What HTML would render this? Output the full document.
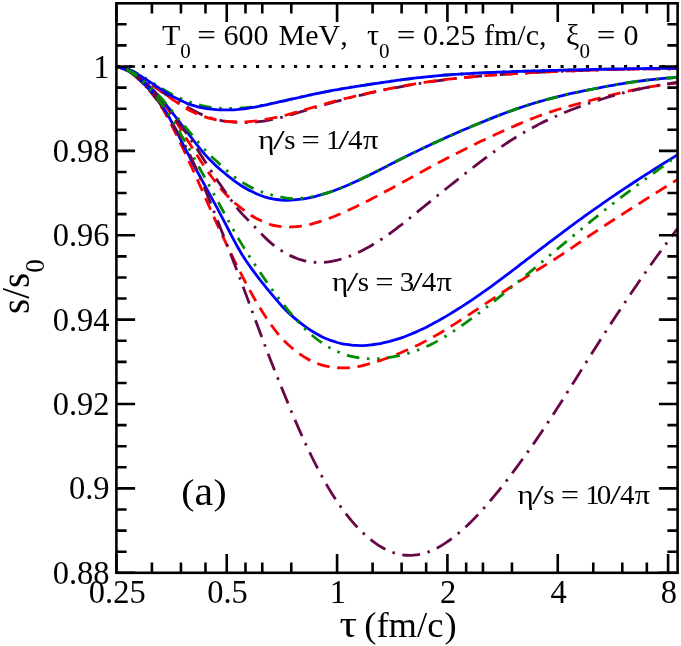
<!DOCTYPE html>
<html><head><meta charset="utf-8"><title>plot</title>
<style>
html,body{margin:0;padding:0;background:#fff;}
svg{display:block;will-change:transform;}
text{font-family:"Liberation Serif",serif;fill:#000;font-kerning:none;}
</style></head><body>
<svg width="681" height="646" viewBox="0 0 681 646">
<rect width="681" height="646" fill="#fff"/>
<path d="M116.4 66.5H677.6" fill="none" stroke="#000" stroke-width="3" stroke-dasharray="3.1 9.59"/>
<defs><clipPath id="clip"><rect x="116.4" y="3.3" width="561.2" height="569.3"/></clipPath></defs>
<g fill="none" stroke-linecap="butt" stroke-linejoin="round" clip-path="url(#clip)">
<path d="M116.40 66.50C118.07 66.80 119.73 67.04 121.40 67.39C123.07 67.74 124.73 68.10 126.40 68.60C128.07 69.11 129.73 69.72 131.40 70.44C133.07 71.16 134.73 72.02 136.40 72.91C138.07 73.80 139.73 74.79 141.40 75.77C143.07 76.76 144.73 77.79 146.40 78.82C148.07 79.86 149.73 80.92 151.40 81.97C153.07 83.03 154.73 84.10 156.40 85.15C158.07 86.20 159.73 87.26 161.40 88.28C163.07 89.30 164.73 90.30 166.40 91.26C168.07 92.22 169.73 93.15 171.40 94.03C173.07 94.91 174.73 95.75 176.40 96.55C178.07 97.34 179.73 98.09 181.40 98.80C183.07 99.51 184.73 100.18 186.40 100.81C188.07 101.44 189.73 102.03 191.40 102.59C193.07 103.14 194.73 103.67 196.40 104.16C198.07 104.64 199.73 105.09 201.40 105.50C203.07 105.91 204.73 106.28 206.40 106.60C208.07 106.93 209.73 107.21 211.40 107.44C213.07 107.68 214.73 107.87 216.40 108.01C218.07 108.16 219.73 108.25 221.40 108.32C223.07 108.39 224.73 108.41 226.40 108.42C228.07 108.43 229.73 108.42 231.40 108.39C233.07 108.36 234.73 108.31 236.40 108.24C238.07 108.17 239.73 108.09 241.40 107.98C243.07 107.87 244.73 107.74 246.40 107.59C248.07 107.44 249.73 107.26 251.40 107.05C253.07 106.85 254.73 106.61 256.40 106.35C258.07 106.09 259.73 105.80 261.40 105.49C263.07 105.19 264.73 104.86 266.40 104.53C268.07 104.20 269.73 103.85 271.40 103.50C273.07 103.15 274.73 102.79 276.40 102.43C278.07 102.07 279.73 101.71 281.40 101.34C283.07 100.98 284.73 100.62 286.40 100.26C288.07 99.89 289.73 99.53 291.40 99.17C293.07 98.80 294.73 98.43 296.40 98.06C298.07 97.70 299.73 97.33 301.40 96.96C303.07 96.59 304.73 96.23 306.40 95.86C308.07 95.50 309.73 95.14 311.40 94.79C313.07 94.43 314.73 94.08 316.40 93.73C318.07 93.38 319.73 93.03 321.40 92.70C323.07 92.36 324.73 92.02 326.40 91.69C328.07 91.37 329.73 91.04 331.40 90.73C333.07 90.41 334.73 90.10 336.40 89.80C338.07 89.49 339.73 89.20 341.40 88.91C343.07 88.61 344.73 88.33 346.40 88.05C348.07 87.77 349.73 87.49 351.40 87.22C353.07 86.95 354.73 86.69 356.40 86.42C358.07 86.16 359.73 85.90 361.40 85.64C363.07 85.39 364.73 85.13 366.40 84.88C368.07 84.63 369.73 84.38 371.40 84.13C373.07 83.88 374.73 83.63 376.40 83.38C378.07 83.13 379.73 82.89 381.40 82.64C383.07 82.40 384.73 82.15 386.40 81.91C388.07 81.67 389.73 81.42 391.40 81.18C393.07 80.95 394.73 80.71 396.40 80.48C398.07 80.24 399.73 80.01 401.40 79.79C403.07 79.56 404.73 79.34 406.40 79.13C408.07 78.91 409.73 78.70 411.40 78.50C413.07 78.29 414.73 78.09 416.40 77.90C418.07 77.70 419.73 77.52 421.40 77.33C423.07 77.15 424.73 76.98 426.40 76.81C428.07 76.64 429.73 76.47 431.40 76.31C433.07 76.15 434.73 76.00 436.40 75.85C438.07 75.70 439.73 75.56 441.40 75.42C443.07 75.29 444.73 75.15 446.40 75.02C448.07 74.90 449.73 74.77 451.40 74.65C453.07 74.53 454.73 74.42 456.40 74.31C458.07 74.20 459.73 74.09 461.40 73.99C463.07 73.88 464.73 73.78 466.40 73.68C468.07 73.59 469.73 73.50 471.40 73.40C473.07 73.31 474.73 73.23 476.40 73.14C478.07 73.06 479.73 72.98 481.40 72.90C483.07 72.82 484.73 72.74 486.40 72.67C488.07 72.60 489.73 72.52 491.40 72.45C493.07 72.38 494.73 72.32 496.40 72.25C498.07 72.18 499.73 72.12 501.40 72.05C503.07 71.99 504.73 71.93 506.40 71.87C508.07 71.81 509.73 71.75 511.40 71.69C513.07 71.63 514.73 71.57 516.40 71.52C518.07 71.46 519.73 71.40 521.40 71.35C523.07 71.29 524.73 71.24 526.40 71.19C528.07 71.13 529.73 71.08 531.40 71.03C533.07 70.98 534.73 70.92 536.40 70.87C538.07 70.82 539.73 70.77 541.40 70.72C543.07 70.67 544.73 70.63 546.40 70.58C548.07 70.53 549.73 70.48 551.40 70.44C553.07 70.39 554.73 70.35 556.40 70.31C558.07 70.26 559.73 70.22 561.40 70.18C563.07 70.14 564.73 70.10 566.40 70.06C568.07 70.01 569.73 69.98 571.40 69.94C573.07 69.90 574.73 69.86 576.40 69.82C578.07 69.79 579.73 69.75 581.40 69.71C583.07 69.68 584.73 69.64 586.40 69.61C588.07 69.57 589.73 69.53 591.40 69.50C593.07 69.46 594.73 69.43 596.40 69.39C598.07 69.36 599.73 69.32 601.40 69.29C603.07 69.26 604.73 69.22 606.40 69.19C608.07 69.15 609.73 69.12 611.40 69.09C613.07 69.05 614.73 69.02 616.40 68.99C618.07 68.96 619.73 68.93 621.40 68.90C623.07 68.87 624.73 68.84 626.40 68.81C628.07 68.78 629.73 68.75 631.40 68.73C633.07 68.70 634.73 68.67 636.40 68.65C638.07 68.62 639.73 68.60 641.40 68.58C643.07 68.55 644.73 68.53 646.40 68.51C648.07 68.49 649.73 68.47 651.40 68.45C653.07 68.43 654.73 68.41 656.40 68.39C658.07 68.37 659.73 68.36 661.40 68.34C663.07 68.32 664.73 68.30 666.40 68.29C668.07 68.27 669.73 68.25 671.40 68.24C673.07 68.22 674.73 68.20 676.40 68.19C676.80 68.18 677.20 68.18 677.60 68.18" stroke="#008b00" stroke-width="2.8" stroke-dasharray="2.55 7.65 12.75 7.65 2.55 7.65"/>
<path d="M116.40 66.50C118.07 66.84 119.73 67.13 121.40 67.53C123.07 67.94 124.73 68.35 126.40 68.94C128.07 69.52 129.73 70.23 131.40 71.06C133.07 71.88 134.73 72.88 136.40 73.90C138.07 74.92 139.73 76.06 141.40 77.19C143.07 78.32 144.73 79.50 146.40 80.68C148.07 81.87 149.73 83.08 151.40 84.28C153.07 85.48 154.73 86.70 156.40 87.89C158.07 89.08 159.73 90.28 161.40 91.44C163.07 92.60 164.73 93.74 166.40 94.84C168.07 95.94 169.73 97.00 171.40 98.03C173.07 99.06 174.73 100.04 176.40 101.00C178.07 101.96 179.73 102.87 181.40 103.79C183.07 104.71 184.73 105.59 186.40 106.51C188.07 107.42 189.73 108.36 191.40 109.27C193.07 110.18 194.73 111.11 196.40 111.96C198.07 112.81 199.73 113.62 201.40 114.37C203.07 115.11 204.73 115.79 206.40 116.42C208.07 117.04 209.73 117.61 211.40 118.12C213.07 118.63 214.73 119.09 216.40 119.49C218.07 119.90 219.73 120.25 221.40 120.56C223.07 120.87 224.73 121.12 226.40 121.34C228.07 121.56 229.73 121.74 231.40 121.89C233.07 122.04 234.73 122.15 236.40 122.24C238.07 122.34 239.73 122.41 241.40 122.45C243.07 122.48 244.73 122.50 246.40 122.48C248.07 122.46 249.73 122.41 251.40 122.31C253.07 122.22 254.73 122.10 256.40 121.93C258.07 121.77 259.73 121.56 261.40 121.33C263.07 121.10 264.73 120.84 266.40 120.56C268.07 120.28 269.73 119.97 271.40 119.64C273.07 119.31 274.73 118.96 276.40 118.58C278.07 118.21 279.73 117.81 281.40 117.38C283.07 116.95 284.73 116.50 286.40 116.03C288.07 115.57 289.73 115.08 291.40 114.59C293.07 114.11 294.73 113.61 296.40 113.12C298.07 112.63 299.73 112.14 301.40 111.64C303.07 111.15 304.73 110.65 306.40 110.16C308.07 109.66 309.73 109.16 311.40 108.66C313.07 108.16 314.73 107.66 316.40 107.16C318.07 106.67 319.73 106.17 321.40 105.68C323.07 105.19 324.73 104.70 326.40 104.22C328.07 103.74 329.73 103.26 331.40 102.79C333.07 102.32 334.73 101.86 336.40 101.40C338.07 100.94 339.73 100.49 341.40 100.05C343.07 99.61 344.73 99.17 346.40 98.74C348.07 98.31 349.73 97.88 351.40 97.46C353.07 97.05 354.73 96.64 356.40 96.23C358.07 95.82 359.73 95.42 361.40 95.03C363.07 94.64 364.73 94.25 366.40 93.86C368.07 93.48 369.73 93.10 371.40 92.73C373.07 92.36 374.73 91.99 376.40 91.63C378.07 91.27 379.73 90.92 381.40 90.57C383.07 90.21 384.73 89.87 386.40 89.53C388.07 89.19 389.73 88.85 391.40 88.53C393.07 88.20 394.73 87.87 396.40 87.55C398.07 87.23 399.73 86.92 401.40 86.61C403.07 86.30 404.73 86.00 406.40 85.70C408.07 85.41 409.73 85.11 411.40 84.83C413.07 84.54 414.73 84.26 416.40 83.98C418.07 83.71 419.73 83.44 421.40 83.17C423.07 82.91 424.73 82.65 426.40 82.39C428.07 82.14 429.73 81.89 431.40 81.65C433.07 81.40 434.73 81.17 436.40 80.93C438.07 80.70 439.73 80.47 441.40 80.25C443.07 80.03 444.73 79.82 446.40 79.61C448.07 79.40 449.73 79.19 451.40 78.99C453.07 78.80 454.73 78.60 456.40 78.42C458.07 78.23 459.73 78.05 461.40 77.87C463.07 77.69 464.73 77.52 466.40 77.35C468.07 77.19 469.73 77.03 471.40 76.87C473.07 76.71 474.73 76.56 476.40 76.42C478.07 76.27 479.73 76.13 481.40 75.99C483.07 75.85 484.73 75.72 486.40 75.59C488.07 75.45 489.73 75.33 491.40 75.20C493.07 75.08 494.73 74.96 496.40 74.84C498.07 74.73 499.73 74.61 501.40 74.50C503.07 74.39 504.73 74.28 506.40 74.17C508.07 74.07 509.73 73.96 511.40 73.86C513.07 73.75 514.73 73.65 516.40 73.56C518.07 73.46 519.73 73.36 521.40 73.26C523.07 73.17 524.73 73.07 526.40 72.98C528.07 72.89 529.73 72.80 531.40 72.71C533.07 72.62 534.73 72.53 536.40 72.45C538.07 72.36 539.73 72.28 541.40 72.19C543.07 72.11 544.73 72.03 546.40 71.95C548.07 71.87 549.73 71.79 551.40 71.71C553.07 71.64 554.73 71.56 556.40 71.49C558.07 71.41 559.73 71.34 561.40 71.27C563.07 71.20 564.73 71.13 566.40 71.06C568.07 70.99 569.73 70.92 571.40 70.86C573.07 70.80 574.73 70.73 576.40 70.67C578.07 70.61 579.73 70.55 581.40 70.49C583.07 70.43 584.73 70.37 586.40 70.32C588.07 70.26 589.73 70.21 591.40 70.16C593.07 70.10 594.73 70.05 596.40 70.00C598.07 69.95 599.73 69.91 601.40 69.86C603.07 69.81 604.73 69.77 606.40 69.72C608.07 69.68 609.73 69.64 611.40 69.60C613.07 69.56 614.73 69.52 616.40 69.48C618.07 69.45 619.73 69.41 621.40 69.38C623.07 69.34 624.73 69.31 626.40 69.28C628.07 69.25 629.73 69.22 631.40 69.19C633.07 69.16 634.73 69.14 636.40 69.11C638.07 69.09 639.73 69.06 641.40 69.04C643.07 69.02 644.73 68.99 646.40 68.97C648.07 68.95 649.73 68.93 651.40 68.92C653.07 68.90 654.73 68.88 656.40 68.86C658.07 68.85 659.73 68.83 661.40 68.81C663.07 68.80 664.73 68.78 666.40 68.77C668.07 68.75 669.73 68.74 671.40 68.72C673.07 68.71 674.73 68.70 676.40 68.68C676.80 68.68 677.20 68.67 677.60 68.67" stroke="#670748" stroke-width="2.8" stroke-dasharray="2.55 7.65 17.85 7.65"/>
<path d="M116.40 66.50C118.07 66.84 119.73 67.13 121.40 67.53C123.07 67.94 124.73 68.35 126.40 68.93C128.07 69.52 129.73 70.22 131.40 71.05C133.07 71.87 134.73 72.87 136.40 73.89C138.07 74.92 139.73 76.06 141.40 77.20C143.07 78.35 144.73 79.55 146.40 80.75C148.07 81.96 149.73 83.20 151.40 84.43C153.07 85.66 154.73 86.90 156.40 88.13C158.07 89.36 159.73 90.59 161.40 91.79C163.07 92.99 164.73 94.18 166.40 95.34C168.07 96.50 169.73 97.62 171.40 98.73C173.07 99.85 174.73 100.92 176.40 102.02C178.07 103.12 179.73 104.24 181.40 105.32C183.07 106.41 184.73 107.53 186.40 108.52C188.07 109.52 189.73 110.44 191.40 111.30C193.07 112.16 194.73 112.94 196.40 113.66C198.07 114.39 199.73 115.05 201.40 115.66C203.07 116.27 204.73 116.83 206.40 117.34C208.07 117.85 209.73 118.31 211.40 118.73C213.07 119.14 214.73 119.52 216.40 119.85C218.07 120.18 219.73 120.46 221.40 120.71C223.07 120.95 224.73 121.15 226.40 121.32C228.07 121.48 229.73 121.61 231.40 121.71C233.07 121.80 234.73 121.86 236.40 121.90C238.07 121.94 239.73 121.95 241.40 121.93C243.07 121.90 244.73 121.86 246.40 121.78C248.07 121.69 249.73 121.58 251.40 121.43C253.07 121.28 254.73 121.10 256.40 120.88C258.07 120.67 259.73 120.41 261.40 120.13C263.07 119.85 264.73 119.54 266.40 119.23C268.07 118.91 269.73 118.58 271.40 118.25C273.07 117.92 274.73 117.60 276.40 117.26C278.07 116.92 279.73 116.59 281.40 116.21C283.07 115.84 284.73 115.44 286.40 115.00C288.07 114.57 289.73 114.10 291.40 113.62C293.07 113.15 294.73 112.64 296.40 112.15C298.07 111.66 299.73 111.18 301.40 110.69C303.07 110.21 304.73 109.73 306.40 109.24C308.07 108.76 309.73 108.28 311.40 107.80C313.07 107.31 314.73 106.83 316.40 106.35C318.07 105.87 319.73 105.39 321.40 104.92C323.07 104.44 324.73 103.97 326.40 103.51C328.07 103.05 329.73 102.59 331.40 102.14C333.07 101.69 334.73 101.24 336.40 100.80C338.07 100.36 339.73 99.93 341.40 99.51C343.07 99.08 344.73 98.66 346.40 98.25C348.07 97.83 349.73 97.43 351.40 97.03C353.07 96.62 354.73 96.23 356.40 95.84C358.07 95.45 359.73 95.06 361.40 94.68C363.07 94.30 364.73 93.92 366.40 93.55C368.07 93.18 369.73 92.81 371.40 92.44C373.07 92.08 374.73 91.72 376.40 91.36C378.07 91.00 379.73 90.65 381.40 90.30C383.07 89.95 384.73 89.61 386.40 89.27C388.07 88.93 389.73 88.59 391.40 88.26C393.07 87.93 394.73 87.60 396.40 87.28C398.07 86.96 399.73 86.64 401.40 86.33C403.07 86.02 404.73 85.71 406.40 85.41C408.07 85.11 409.73 84.82 411.40 84.53C413.07 84.24 414.73 83.96 416.40 83.68C418.07 83.41 419.73 83.14 421.40 82.88C423.07 82.61 424.73 82.36 426.40 82.11C428.07 81.86 429.73 81.61 431.40 81.38C433.07 81.14 434.73 80.91 436.40 80.68C438.07 80.46 439.73 80.24 441.40 80.02C443.07 79.81 444.73 79.61 446.40 79.40C448.07 79.20 449.73 79.01 451.40 78.82C453.07 78.63 454.73 78.44 456.40 78.27C458.07 78.09 459.73 77.92 461.40 77.75C463.07 77.58 464.73 77.42 466.40 77.26C468.07 77.10 469.73 76.95 471.40 76.80C473.07 76.65 474.73 76.50 476.40 76.36C478.07 76.22 479.73 76.09 481.40 75.95C483.07 75.82 484.73 75.69 486.40 75.57C488.07 75.44 489.73 75.32 491.40 75.20C493.07 75.08 494.73 74.96 496.40 74.84C498.07 74.73 499.73 74.62 501.40 74.51C503.07 74.39 504.73 74.29 506.40 74.18C508.07 74.07 509.73 73.97 511.40 73.87C513.07 73.76 514.73 73.66 516.40 73.57C518.07 73.47 519.73 73.37 521.40 73.27C523.07 73.18 524.73 73.08 526.40 72.99C528.07 72.90 529.73 72.81 531.40 72.72C533.07 72.63 534.73 72.54 536.40 72.45C538.07 72.37 539.73 72.28 541.40 72.20C543.07 72.11 544.73 72.03 546.40 71.95C548.07 71.87 549.73 71.79 551.40 71.71C553.07 71.64 554.73 71.56 556.40 71.49C558.07 71.41 559.73 71.34 561.40 71.27C563.07 71.20 564.73 71.13 566.40 71.06C568.07 70.99 569.73 70.92 571.40 70.86C573.07 70.79 574.73 70.73 576.40 70.67C578.07 70.61 579.73 70.55 581.40 70.49C583.07 70.43 584.73 70.37 586.40 70.32C588.07 70.26 589.73 70.21 591.40 70.16C593.07 70.10 594.73 70.05 596.40 70.00C598.07 69.95 599.73 69.91 601.40 69.86C603.07 69.81 604.73 69.77 606.40 69.72C608.07 69.68 609.73 69.64 611.40 69.60C613.07 69.56 614.73 69.52 616.40 69.48C618.07 69.45 619.73 69.41 621.40 69.38C623.07 69.34 624.73 69.31 626.40 69.28C628.07 69.25 629.73 69.22 631.40 69.19C633.07 69.16 634.73 69.14 636.40 69.11C638.07 69.09 639.73 69.06 641.40 69.04C643.07 69.02 644.73 68.99 646.40 68.97C648.07 68.95 649.73 68.93 651.40 68.92C653.07 68.90 654.73 68.88 656.40 68.86C658.07 68.85 659.73 68.83 661.40 68.81C663.07 68.80 664.73 68.78 666.40 68.77C668.07 68.75 669.73 68.74 671.40 68.72C673.07 68.71 674.73 68.70 676.40 68.68C676.80 68.68 677.20 68.67 677.60 68.67" stroke="#ff0000" stroke-width="2.8" stroke-dasharray="12.75 7.65"/>
<path d="M116.40 66.50C118.07 66.82 119.73 67.09 121.40 67.47C123.07 67.85 124.73 68.23 126.40 68.77C128.07 69.32 129.73 69.97 131.40 70.73C133.07 71.49 134.73 72.41 136.40 73.35C138.07 74.29 139.73 75.33 141.40 76.37C143.07 77.41 144.73 78.50 146.40 79.59C148.07 80.68 149.73 81.80 151.40 82.91C153.07 84.02 154.73 85.16 156.40 86.27C158.07 87.39 159.73 88.51 161.40 89.59C163.07 90.67 164.73 91.73 166.40 92.74C168.07 93.76 169.73 94.72 171.40 95.66C173.07 96.59 174.73 97.49 176.40 98.35C178.07 99.22 179.73 100.06 181.40 100.85C183.07 101.64 184.73 102.40 186.40 103.08C188.07 103.76 189.73 104.37 191.40 104.93C193.07 105.49 194.73 105.98 196.40 106.43C198.07 106.88 199.73 107.28 201.40 107.63C203.07 107.99 204.73 108.29 206.40 108.55C208.07 108.82 209.73 109.03 211.40 109.21C213.07 109.39 214.73 109.52 216.40 109.63C218.07 109.74 219.73 109.81 221.40 109.86C223.07 109.90 224.73 109.92 226.40 109.91C228.07 109.91 229.73 109.88 231.40 109.82C233.07 109.77 234.73 109.69 236.40 109.57C238.07 109.46 239.73 109.32 241.40 109.14C243.07 108.96 244.73 108.75 246.40 108.51C248.07 108.28 249.73 108.01 251.40 107.73C253.07 107.45 254.73 107.15 256.40 106.84C258.07 106.52 259.73 106.20 261.40 105.86C263.07 105.52 264.73 105.17 266.40 104.81C268.07 104.45 269.73 104.07 271.40 103.69C273.07 103.32 274.73 102.93 276.40 102.55C278.07 102.17 279.73 101.79 281.40 101.41C283.07 101.03 284.73 100.66 286.40 100.29C288.07 99.91 289.73 99.55 291.40 99.17C293.07 98.80 294.73 98.43 296.40 98.06C298.07 97.69 299.73 97.31 301.40 96.94C303.07 96.57 304.73 96.20 306.40 95.84C308.07 95.47 309.73 95.11 311.40 94.75C313.07 94.40 314.73 94.05 316.40 93.70C318.07 93.35 319.73 93.01 321.40 92.67C323.07 92.33 324.73 92.00 326.40 91.67C328.07 91.35 329.73 91.02 331.40 90.71C333.07 90.40 334.73 90.09 336.40 89.78C338.07 89.48 339.73 89.19 341.40 88.90C343.07 88.61 344.73 88.32 346.40 88.04C348.07 87.76 349.73 87.49 351.40 87.22C353.07 86.95 354.73 86.68 356.40 86.42C358.07 86.16 359.73 85.90 361.40 85.64C363.07 85.39 364.73 85.14 366.40 84.88C368.07 84.63 369.73 84.38 371.40 84.13C373.07 83.88 374.73 83.63 376.40 83.38C378.07 83.14 379.73 82.89 381.40 82.64C383.07 82.40 384.73 82.15 386.40 81.91C388.07 81.67 389.73 81.42 391.40 81.19C393.07 80.95 394.73 80.71 396.40 80.48C398.07 80.24 399.73 80.01 401.40 79.79C403.07 79.56 404.73 79.34 406.40 79.13C408.07 78.91 409.73 78.70 411.40 78.50C413.07 78.29 414.73 78.09 416.40 77.90C418.07 77.70 419.73 77.52 421.40 77.33C423.07 77.15 424.73 76.98 426.40 76.81C428.07 76.64 429.73 76.47 431.40 76.31C433.07 76.15 434.73 76.00 436.40 75.85C438.07 75.70 439.73 75.56 441.40 75.42C443.07 75.29 444.73 75.15 446.40 75.02C448.07 74.90 449.73 74.77 451.40 74.65C453.07 74.53 454.73 74.42 456.40 74.31C458.07 74.20 459.73 74.09 461.40 73.99C463.07 73.88 464.73 73.78 466.40 73.68C468.07 73.59 469.73 73.50 471.40 73.40C473.07 73.31 474.73 73.23 476.40 73.14C478.07 73.06 479.73 72.98 481.40 72.90C483.07 72.82 484.73 72.74 486.40 72.67C488.07 72.60 489.73 72.52 491.40 72.45C493.07 72.38 494.73 72.32 496.40 72.25C498.07 72.18 499.73 72.12 501.40 72.05C503.07 71.99 504.73 71.93 506.40 71.87C508.07 71.81 509.73 71.75 511.40 71.69C513.07 71.63 514.73 71.57 516.40 71.52C518.07 71.46 519.73 71.40 521.40 71.35C523.07 71.29 524.73 71.24 526.40 71.19C528.07 71.13 529.73 71.08 531.40 71.03C533.07 70.98 534.73 70.92 536.40 70.87C538.07 70.82 539.73 70.77 541.40 70.72C543.07 70.67 544.73 70.63 546.40 70.58C548.07 70.53 549.73 70.48 551.40 70.44C553.07 70.39 554.73 70.35 556.40 70.31C558.07 70.26 559.73 70.22 561.40 70.18C563.07 70.14 564.73 70.10 566.40 70.06C568.07 70.01 569.73 69.98 571.40 69.94C573.07 69.90 574.73 69.86 576.40 69.82C578.07 69.79 579.73 69.75 581.40 69.71C583.07 69.68 584.73 69.64 586.40 69.61C588.07 69.57 589.73 69.53 591.40 69.50C593.07 69.46 594.73 69.43 596.40 69.39C598.07 69.36 599.73 69.32 601.40 69.29C603.07 69.26 604.73 69.22 606.40 69.19C608.07 69.15 609.73 69.12 611.40 69.09C613.07 69.05 614.73 69.02 616.40 68.99C618.07 68.96 619.73 68.93 621.40 68.90C623.07 68.87 624.73 68.84 626.40 68.81C628.07 68.78 629.73 68.75 631.40 68.73C633.07 68.70 634.73 68.67 636.40 68.65C638.07 68.62 639.73 68.60 641.40 68.58C643.07 68.55 644.73 68.53 646.40 68.51C648.07 68.49 649.73 68.47 651.40 68.45C653.07 68.43 654.73 68.41 656.40 68.39C658.07 68.37 659.73 68.36 661.40 68.34C663.07 68.32 664.73 68.30 666.40 68.29C668.07 68.27 669.73 68.25 671.40 68.24C673.07 68.22 674.73 68.20 676.40 68.19C676.80 68.18 677.20 68.18 677.60 68.18" stroke="#0000ff" stroke-width="2.8"/>
<path d="M116.40 66.50C118.07 66.94 119.73 67.32 121.40 67.83C123.07 68.34 124.73 68.86 126.40 69.58C128.07 70.30 129.73 71.14 131.40 72.14C133.07 73.14 134.73 74.31 136.40 75.56C138.07 76.82 139.73 78.21 141.40 79.64C143.07 81.08 144.73 82.61 146.40 84.20C148.07 85.79 149.73 87.45 151.40 89.17C153.07 90.90 154.73 92.68 156.40 94.56C158.07 96.44 159.73 98.37 161.40 100.43C163.07 102.50 164.73 104.66 166.40 106.95C168.07 109.24 169.73 111.68 171.40 114.20C173.07 116.71 174.73 119.37 176.40 122.05C178.07 124.72 179.73 127.52 181.40 130.25C183.07 132.98 184.73 135.74 186.40 138.43C188.07 141.13 189.73 143.76 191.40 146.41C193.07 149.06 194.73 151.74 196.40 154.35C198.07 156.95 199.73 159.53 201.40 162.05C203.07 164.56 204.73 167.02 206.40 169.42C208.07 171.83 209.73 174.19 211.40 176.48C213.07 178.77 214.73 181.04 216.40 183.17C218.07 185.31 219.73 187.38 221.40 189.31C223.07 191.25 224.73 193.03 226.40 194.78C228.07 196.52 229.73 198.19 231.40 199.78C233.07 201.36 234.73 202.86 236.40 204.28C238.07 205.70 239.73 206.98 241.40 208.28C243.07 209.58 244.73 210.85 246.40 212.06C248.07 213.27 249.73 214.46 251.40 215.52C253.07 216.57 254.73 217.50 256.40 218.39C258.07 219.27 259.73 220.05 261.40 220.83C263.07 221.61 264.73 222.40 266.40 223.06C268.07 223.71 269.73 224.30 271.40 224.79C273.07 225.27 274.73 225.65 276.40 225.97C278.07 226.28 279.73 226.52 281.40 226.69C283.07 226.87 284.73 226.97 286.40 227.02C288.07 227.07 289.73 227.04 291.40 226.97C293.07 226.90 294.73 226.76 296.40 226.61C298.07 226.45 299.73 226.28 301.40 226.04C303.07 225.81 304.73 225.54 306.40 225.21C308.07 224.89 309.73 224.51 311.40 224.09C313.07 223.67 314.73 223.20 316.40 222.71C318.07 222.21 319.73 221.68 321.40 221.13C323.07 220.57 324.73 219.98 326.40 219.37C328.07 218.76 329.73 218.12 331.40 217.47C333.07 216.82 334.73 216.14 336.40 215.45C338.07 214.76 339.73 214.05 341.40 213.33C343.07 212.60 344.73 211.87 346.40 211.11C348.07 210.36 349.73 209.59 351.40 208.81C353.07 208.03 354.73 207.24 356.40 206.44C358.07 205.63 359.73 204.82 361.40 204.00C363.07 203.17 364.73 202.34 366.40 201.50C368.07 200.66 369.73 199.81 371.40 198.95C373.07 198.10 374.73 197.24 376.40 196.37C378.07 195.50 379.73 194.63 381.40 193.75C383.07 192.87 384.73 191.99 386.40 191.10C388.07 190.21 389.73 189.32 391.40 188.42C393.07 187.52 394.73 186.62 396.40 185.72C398.07 184.81 399.73 183.90 401.40 182.99C403.07 182.07 404.73 181.16 406.40 180.23C408.07 179.31 409.73 178.39 411.40 177.46C413.07 176.54 414.73 175.61 416.40 174.69C418.07 173.76 419.73 172.84 421.40 171.92C423.07 171.00 424.73 170.08 426.40 169.17C428.07 168.26 429.73 167.36 431.40 166.46C433.07 165.56 434.73 164.67 436.40 163.78C438.07 162.90 439.73 162.02 441.40 161.15C443.07 160.28 444.73 159.41 446.40 158.55C448.07 157.69 449.73 156.84 451.40 155.99C453.07 155.14 454.73 154.29 456.40 153.45C458.07 152.60 459.73 151.76 461.40 150.92C463.07 150.09 464.73 149.25 466.40 148.42C468.07 147.60 469.73 146.77 471.40 145.95C473.07 145.13 474.73 144.32 476.40 143.51C478.07 142.70 479.73 141.90 481.40 141.10C483.07 140.31 484.73 139.52 486.40 138.73C488.07 137.95 489.73 137.17 491.40 136.39C493.07 135.62 494.73 134.85 496.40 134.08C498.07 133.31 499.73 132.55 501.40 131.79C503.07 131.03 504.73 130.28 506.40 129.53C508.07 128.78 509.73 128.04 511.40 127.30C513.07 126.57 514.73 125.84 516.40 125.11C518.07 124.39 519.73 123.68 521.40 122.97C523.07 122.27 524.73 121.57 526.40 120.89C528.07 120.21 529.73 119.54 531.40 118.88C533.07 118.22 534.73 117.58 536.40 116.95C538.07 116.32 539.73 115.70 541.40 115.10C543.07 114.49 544.73 113.91 546.40 113.33C548.07 112.76 549.73 112.20 551.40 111.65C553.07 111.10 554.73 110.57 556.40 110.04C558.07 109.52 559.73 109.01 561.40 108.51C563.07 108.01 564.73 107.52 566.40 107.03C568.07 106.55 569.73 106.08 571.40 105.61C573.07 105.15 574.73 104.69 576.40 104.23C578.07 103.78 579.73 103.33 581.40 102.88C583.07 102.44 584.73 101.99 586.40 101.55C588.07 101.11 589.73 100.67 591.40 100.23C593.07 99.80 594.73 99.36 596.40 98.92C598.07 98.49 599.73 98.05 601.40 97.62C603.07 97.19 604.73 96.76 606.40 96.33C608.07 95.91 609.73 95.48 611.40 95.06C613.07 94.64 614.73 94.23 616.40 93.82C618.07 93.41 619.73 93.01 621.40 92.62C623.07 92.22 624.73 91.84 626.40 91.46C628.07 91.08 629.73 90.72 631.40 90.36C633.07 90.00 634.73 89.65 636.40 89.32C638.07 88.98 639.73 88.66 641.40 88.34C643.07 88.03 644.73 87.73 646.40 87.44C648.07 87.14 649.73 86.86 651.40 86.59C653.07 86.32 654.73 86.06 656.40 85.81C658.07 85.55 659.73 85.31 661.40 85.07C663.07 84.83 664.73 84.59 666.40 84.36C668.07 84.13 669.73 83.91 671.40 83.68C673.07 83.46 674.73 83.23 676.40 83.01C676.80 82.96 677.20 82.91 677.60 82.85" stroke="#ff0000" stroke-width="2.8" stroke-dasharray="12.75 7.65"/>
<path d="M116.40 66.50C118.07 67.03 119.73 67.49 121.40 68.10C123.07 68.71 124.73 69.33 126.40 70.18C128.07 71.02 129.73 72.02 131.40 73.18C133.07 74.34 134.73 75.72 136.40 77.16C138.07 78.61 139.73 80.20 141.40 81.85C143.07 83.49 144.73 85.21 146.40 87.04C148.07 88.88 149.73 90.79 151.40 92.85C153.07 94.91 154.73 97.07 156.40 99.40C158.07 101.74 159.73 104.21 161.40 106.87C163.07 109.52 164.73 112.37 166.40 115.36C168.07 118.34 169.73 121.52 171.40 124.75C173.07 127.99 174.73 131.37 176.40 134.76C178.07 138.15 179.73 141.60 181.40 145.08C183.07 148.56 184.73 152.09 186.40 155.65C188.07 159.21 189.73 162.80 191.40 166.44C193.07 170.07 194.73 173.75 196.40 177.47C198.07 181.19 199.73 184.97 201.40 188.75C203.07 192.53 204.73 196.38 206.40 200.17C208.07 203.95 209.73 207.75 211.40 211.48C213.07 215.21 214.73 218.91 216.40 222.57C218.07 226.23 219.73 229.85 221.40 233.44C223.07 237.02 224.73 240.57 226.40 244.07C228.07 247.57 229.73 251.04 231.40 254.46C233.07 257.87 234.73 261.25 236.40 264.58C238.07 267.92 239.73 271.22 241.40 274.46C243.07 277.71 244.73 280.93 246.40 284.07C248.07 287.21 249.73 290.31 251.40 293.30C253.07 296.30 254.73 299.21 256.40 302.03C258.07 304.86 259.73 307.59 261.40 310.24C263.07 312.90 264.73 315.49 266.40 317.98C268.07 320.48 269.73 322.91 271.40 325.22C273.07 327.53 274.73 329.76 276.40 331.86C278.07 333.95 279.73 335.95 281.40 337.80C283.07 339.66 284.73 341.37 286.40 342.99C288.07 344.61 289.73 346.09 291.40 347.51C293.07 348.93 294.73 350.26 296.40 351.53C298.07 352.80 299.73 354.00 301.40 355.13C303.07 356.25 304.73 357.31 306.40 358.28C308.07 359.24 309.73 360.13 311.40 360.94C313.07 361.75 314.73 362.48 316.40 363.13C318.07 363.79 319.73 364.37 321.40 364.88C323.07 365.39 324.73 365.83 326.40 366.20C328.07 366.58 329.73 366.89 331.40 367.14C333.07 367.39 334.73 367.57 336.40 367.70C338.07 367.83 339.73 367.90 341.40 367.92C343.07 367.94 344.73 367.90 346.40 367.82C348.07 367.73 349.73 367.59 351.40 367.41C353.07 367.23 354.73 367.00 356.40 366.73C358.07 366.46 359.73 366.14 361.40 365.79C363.07 365.44 364.73 365.05 366.40 364.63C368.07 364.21 369.73 363.75 371.40 363.27C373.07 362.79 374.73 362.28 376.40 361.74C378.07 361.21 379.73 360.65 381.40 360.08C383.07 359.51 384.73 358.91 386.40 358.31C388.07 357.70 389.73 357.08 391.40 356.44C393.07 355.81 394.73 355.16 396.40 354.49C398.07 353.82 399.73 353.14 401.40 352.44C403.07 351.75 404.73 351.03 406.40 350.30C408.07 349.57 409.73 348.82 411.40 348.05C413.07 347.28 414.73 346.50 416.40 345.69C418.07 344.89 419.73 344.06 421.40 343.22C423.07 342.37 424.73 341.51 426.40 340.63C428.07 339.74 429.73 338.84 431.40 337.92C433.07 337.00 434.73 336.06 436.40 335.11C438.07 334.15 439.73 333.17 441.40 332.18C443.07 331.19 444.73 330.17 446.40 329.15C448.07 328.13 449.73 327.09 451.40 326.04C453.07 325.00 454.73 323.93 456.40 322.87C458.07 321.80 459.73 320.73 461.40 319.65C463.07 318.57 464.73 317.48 466.40 316.39C468.07 315.30 469.73 314.20 471.40 313.10C473.07 312.00 474.73 310.90 476.40 309.80C478.07 308.69 479.73 307.58 481.40 306.47C483.07 305.36 484.73 304.25 486.40 303.14C488.07 302.03 489.73 300.91 491.40 299.80C493.07 298.69 494.73 297.58 496.40 296.47C498.07 295.36 499.73 294.25 501.40 293.14C503.07 292.04 504.73 290.93 506.40 289.83C508.07 288.73 509.73 287.64 511.40 286.55C513.07 285.46 514.73 284.37 516.40 283.29C518.07 282.21 519.73 281.13 521.40 280.07C523.07 279.00 524.73 277.94 526.40 276.88C528.07 275.83 529.73 274.78 531.40 273.74C533.07 272.69 534.73 271.66 536.40 270.62C538.07 269.58 539.73 268.55 541.40 267.52C543.07 266.48 544.73 265.45 546.40 264.41C548.07 263.37 549.73 262.33 551.40 261.27C553.07 260.22 554.73 259.16 556.40 258.09C558.07 257.01 559.73 255.93 561.40 254.83C563.07 253.74 564.73 252.63 566.40 251.51C568.07 250.39 569.73 249.26 571.40 248.13C573.07 247.00 574.73 245.85 576.40 244.71C578.07 243.57 579.73 242.42 581.40 241.28C583.07 240.13 584.73 238.99 586.40 237.85C588.07 236.71 589.73 235.58 591.40 234.45C593.07 233.32 594.73 232.20 596.40 231.08C598.07 229.97 599.73 228.86 601.40 227.76C603.07 226.66 604.73 225.57 606.40 224.48C608.07 223.39 609.73 222.31 611.40 221.23C613.07 220.15 614.73 219.08 616.40 218.02C618.07 216.95 619.73 215.88 621.40 214.82C623.07 213.76 624.73 212.70 626.40 211.64C628.07 210.58 629.73 209.52 631.40 208.46C633.07 207.40 634.73 206.34 636.40 205.28C638.07 204.22 639.73 203.16 641.40 202.10C643.07 201.05 644.73 199.99 646.40 198.94C648.07 197.88 649.73 196.83 651.40 195.78C653.07 194.73 654.73 193.69 656.40 192.64C658.07 191.60 659.73 190.56 661.40 189.52C663.07 188.48 664.73 187.44 666.40 186.41C668.07 185.37 669.73 184.34 671.40 183.31C673.07 182.27 674.73 181.24 676.40 180.21C676.80 179.96 677.20 179.72 677.60 179.47" stroke="#ff0000" stroke-width="2.8" stroke-dasharray="12.75 7.65"/>
<path d="M116.40 66.50C118.07 66.92 119.73 67.26 121.40 67.75C123.07 68.24 124.73 68.73 126.40 69.41C128.07 70.10 129.73 70.91 131.40 71.87C133.07 72.84 134.73 73.98 136.40 75.19C138.07 76.40 139.73 77.74 141.40 79.14C143.07 80.53 144.73 82.00 146.40 83.54C148.07 85.07 149.73 86.68 151.40 88.34C153.07 90.01 154.73 91.74 156.40 93.53C158.07 95.32 159.73 97.18 161.40 99.10C163.07 101.03 164.73 103.02 166.40 105.07C168.07 107.13 169.73 109.27 171.40 111.42C173.07 113.57 174.73 115.78 176.40 117.96C178.07 120.14 179.73 122.31 181.40 124.49C183.07 126.67 184.73 128.86 186.40 131.06C188.07 133.26 189.73 135.50 191.40 137.69C193.07 139.88 194.73 142.07 196.40 144.18C198.07 146.29 199.73 148.37 201.40 150.35C203.07 152.33 204.73 154.24 206.40 156.07C208.07 157.90 209.73 159.66 211.40 161.34C213.07 163.01 214.73 164.60 216.40 166.13C218.07 167.66 219.73 169.11 221.40 170.52C223.07 171.94 224.73 173.29 226.40 174.64C228.07 175.98 229.73 177.31 231.40 178.59C233.07 179.87 234.73 181.14 236.40 182.33C238.07 183.51 239.73 184.64 241.40 185.70C243.07 186.77 244.73 187.76 246.40 188.69C248.07 189.63 249.73 190.51 251.40 191.34C253.07 192.17 254.73 192.96 256.40 193.69C258.07 194.42 259.73 195.10 261.40 195.72C263.07 196.34 264.73 196.90 266.40 197.39C268.07 197.87 269.73 198.28 271.40 198.63C273.07 198.98 274.73 199.26 276.40 199.49C278.07 199.73 279.73 199.92 281.40 200.04C283.07 200.17 284.73 200.23 286.40 200.24C288.07 200.25 289.73 200.20 291.40 200.11C293.07 200.02 294.73 199.89 296.40 199.72C298.07 199.55 299.73 199.35 301.40 199.11C303.07 198.87 304.73 198.59 306.40 198.29C308.07 197.98 309.73 197.64 311.40 197.27C313.07 196.90 314.73 196.50 316.40 196.07C318.07 195.64 319.73 195.18 321.40 194.70C323.07 194.22 324.73 193.71 326.40 193.18C328.07 192.64 329.73 192.09 331.40 191.51C333.07 190.93 334.73 190.33 336.40 189.71C338.07 189.08 339.73 188.44 341.40 187.78C343.07 187.11 344.73 186.43 346.40 185.72C348.07 185.02 349.73 184.29 351.40 183.55C353.07 182.81 354.73 182.05 356.40 181.28C358.07 180.51 359.73 179.72 361.40 178.92C363.07 178.12 364.73 177.31 366.40 176.50C368.07 175.68 369.73 174.85 371.40 174.02C373.07 173.19 374.73 172.35 376.40 171.50C378.07 170.66 379.73 169.81 381.40 168.96C383.07 168.12 384.73 167.26 386.40 166.41C388.07 165.56 389.73 164.70 391.40 163.85C393.07 163.00 394.73 162.15 396.40 161.31C398.07 160.46 399.73 159.61 401.40 158.78C403.07 157.94 404.73 157.11 406.40 156.28C408.07 155.45 409.73 154.63 411.40 153.82C413.07 153.00 414.73 152.19 416.40 151.39C418.07 150.58 419.73 149.79 421.40 148.99C423.07 148.20 424.73 147.41 426.40 146.62C428.07 145.83 429.73 145.05 431.40 144.27C433.07 143.49 434.73 142.72 436.40 141.95C438.07 141.18 439.73 140.42 441.40 139.66C443.07 138.90 444.73 138.14 446.40 137.39C448.07 136.64 449.73 135.90 451.40 135.16C453.07 134.42 454.73 133.69 456.40 132.96C458.07 132.23 459.73 131.51 461.40 130.80C463.07 130.08 464.73 129.37 466.40 128.67C468.07 127.96 469.73 127.26 471.40 126.56C473.07 125.86 474.73 125.16 476.40 124.47C478.07 123.78 479.73 123.09 481.40 122.40C483.07 121.71 484.73 121.03 486.40 120.35C488.07 119.67 489.73 119.00 491.40 118.33C493.07 117.66 494.73 117.00 496.40 116.34C498.07 115.69 499.73 115.04 501.40 114.40C503.07 113.77 504.73 113.14 506.40 112.52C508.07 111.90 509.73 111.30 511.40 110.70C513.07 110.10 514.73 109.52 516.40 108.94C518.07 108.36 519.73 107.80 521.40 107.24C523.07 106.69 524.73 106.14 526.40 105.61C528.07 105.07 529.73 104.55 531.40 104.03C533.07 103.52 534.73 103.02 536.40 102.52C538.07 102.03 539.73 101.54 541.40 101.06C543.07 100.59 544.73 100.12 546.40 99.66C548.07 99.21 549.73 98.76 551.40 98.32C553.07 97.88 554.73 97.45 556.40 97.02C558.07 96.60 559.73 96.19 561.40 95.78C563.07 95.37 564.73 94.98 566.40 94.59C568.07 94.20 569.73 93.82 571.40 93.44C573.07 93.07 574.73 92.71 576.40 92.35C578.07 91.99 579.73 91.64 581.40 91.29C583.07 90.94 584.73 90.60 586.40 90.27C588.07 89.93 589.73 89.60 591.40 89.28C593.07 88.95 594.73 88.63 596.40 88.31C598.07 87.99 599.73 87.67 601.40 87.36C603.07 87.05 604.73 86.74 606.40 86.43C608.07 86.13 609.73 85.82 611.40 85.52C613.07 85.22 614.73 84.93 616.40 84.64C618.07 84.35 619.73 84.07 621.40 83.79C623.07 83.51 624.73 83.24 626.40 82.97C628.07 82.71 629.73 82.45 631.40 82.21C633.07 81.96 634.73 81.72 636.40 81.49C638.07 81.26 639.73 81.04 641.40 80.83C643.07 80.62 644.73 80.42 646.40 80.22C648.07 80.03 649.73 79.85 651.40 79.67C653.07 79.49 654.73 79.32 656.40 79.15C658.07 78.99 659.73 78.83 661.40 78.68C663.07 78.52 664.73 78.37 666.40 78.22C668.07 78.08 669.73 77.93 671.40 77.79C673.07 77.64 674.73 77.50 676.40 77.36C676.80 77.32 677.20 77.29 677.60 77.26" stroke="#0000ff" stroke-width="2.8"/>
<path d="M116.40 66.50C118.07 67.00 119.73 67.43 121.40 68.02C123.07 68.60 124.73 69.19 126.40 70.01C128.07 70.83 129.73 71.79 131.40 72.93C133.07 74.06 134.73 75.40 136.40 76.82C138.07 78.23 139.73 79.80 141.40 81.41C143.07 83.02 144.73 84.71 146.40 86.48C148.07 88.25 149.73 90.09 151.40 92.02C153.07 93.96 154.73 95.94 156.40 98.08C158.07 100.21 159.73 102.42 161.40 104.84C163.07 107.25 164.73 109.81 166.40 112.58C168.07 115.36 169.73 118.38 171.40 121.47C173.07 124.57 174.73 127.89 176.40 131.16C178.07 134.42 179.73 137.80 181.40 141.09C183.07 144.37 184.73 147.63 186.40 150.85C188.07 154.07 189.73 157.26 191.40 160.42C193.07 163.59 194.73 166.73 196.40 169.86C198.07 172.99 199.73 176.10 201.40 179.18C203.07 182.27 204.73 185.33 206.40 188.38C208.07 191.43 209.73 194.44 211.40 197.49C213.07 200.54 214.73 203.59 216.40 206.69C218.07 209.79 219.73 212.91 221.40 216.08C223.07 219.25 224.73 222.48 226.40 225.69C228.07 228.90 229.73 232.19 231.40 235.36C233.07 238.54 234.73 241.73 236.40 244.74C238.07 247.75 239.73 250.69 241.40 253.44C243.07 256.19 244.73 258.76 246.40 261.24C248.07 263.73 249.73 266.05 251.40 268.35C253.07 270.65 254.73 272.86 256.40 275.06C258.07 277.25 259.73 279.40 261.40 281.52C263.07 283.65 264.73 285.74 266.40 287.81C268.07 289.88 269.73 291.93 271.40 293.95C273.07 295.96 274.73 297.95 276.40 299.88C278.07 301.81 279.73 303.73 281.40 305.53C283.07 307.34 284.73 309.07 286.40 310.71C288.07 312.35 289.73 313.89 291.40 315.38C293.07 316.88 294.73 318.30 296.40 319.69C298.07 321.08 299.73 322.42 301.40 323.71C303.07 324.99 304.73 326.24 306.40 327.42C308.07 328.60 309.73 329.72 311.40 330.78C313.07 331.84 314.73 332.84 316.40 333.78C318.07 334.72 319.73 335.60 321.40 336.42C323.07 337.24 324.73 338.00 326.40 338.70C328.07 339.41 329.73 340.05 331.40 340.64C333.07 341.23 334.73 341.76 336.40 342.24C338.07 342.72 339.73 343.14 341.40 343.51C343.07 343.88 344.73 344.20 346.40 344.47C348.07 344.73 349.73 344.94 351.40 345.11C353.07 345.27 354.73 345.39 356.40 345.46C358.07 345.53 359.73 345.55 361.40 345.53C363.07 345.51 364.73 345.44 366.40 345.33C368.07 345.22 369.73 345.07 371.40 344.88C373.07 344.69 374.73 344.46 376.40 344.20C378.07 343.94 379.73 343.64 381.40 343.30C383.07 342.97 384.73 342.60 386.40 342.20C388.07 341.80 389.73 341.37 391.40 340.91C393.07 340.45 394.73 339.97 396.40 339.45C398.07 338.93 399.73 338.39 401.40 337.81C403.07 337.24 404.73 336.64 406.40 336.01C408.07 335.38 409.73 334.72 411.40 334.04C413.07 333.35 414.73 332.64 416.40 331.90C418.07 331.16 419.73 330.39 421.40 329.60C423.07 328.81 424.73 327.99 426.40 327.15C428.07 326.30 429.73 325.44 431.40 324.55C433.07 323.67 434.73 322.76 436.40 321.84C438.07 320.91 439.73 319.97 441.40 319.01C443.07 318.05 444.73 317.07 446.40 316.09C448.07 315.10 449.73 314.09 451.40 313.08C453.07 312.06 454.73 311.03 456.40 309.99C458.07 308.95 459.73 307.90 461.40 306.83C463.07 305.77 464.73 304.69 466.40 303.60C468.07 302.51 469.73 301.41 471.40 300.30C473.07 299.18 474.73 298.06 476.40 296.92C478.07 295.78 479.73 294.63 481.40 293.47C483.07 292.31 484.73 291.13 486.40 289.94C488.07 288.76 489.73 287.56 491.40 286.35C493.07 285.14 494.73 283.91 496.40 282.68C498.07 281.45 499.73 280.21 501.40 278.96C503.07 277.71 504.73 276.45 506.40 275.19C508.07 273.93 509.73 272.65 511.40 271.38C513.07 270.11 514.73 268.84 516.40 267.56C518.07 266.29 519.73 265.01 521.40 263.73C523.07 262.45 524.73 261.17 526.40 259.89C528.07 258.62 529.73 257.34 531.40 256.06C533.07 254.79 534.73 253.51 536.40 252.24C538.07 250.97 539.73 249.69 541.40 248.42C543.07 247.15 544.73 245.88 546.40 244.62C548.07 243.35 549.73 242.09 551.40 240.82C553.07 239.56 554.73 238.30 556.40 237.05C558.07 235.79 559.73 234.53 561.40 233.28C563.07 232.03 564.73 230.79 566.40 229.54C568.07 228.30 569.73 227.06 571.40 225.83C573.07 224.60 574.73 223.37 576.40 222.15C578.07 220.93 579.73 219.72 581.40 218.51C583.07 217.31 584.73 216.11 586.40 214.92C588.07 213.72 589.73 212.54 591.40 211.36C593.07 210.18 594.73 209.01 596.40 207.84C598.07 206.66 599.73 205.50 601.40 204.33C603.07 203.17 604.73 202.01 606.40 200.86C608.07 199.70 609.73 198.55 611.40 197.41C613.07 196.27 614.73 195.13 616.40 194.00C618.07 192.87 619.73 191.74 621.40 190.63C623.07 189.51 624.73 188.40 626.40 187.30C628.07 186.19 629.73 185.10 631.40 184.01C633.07 182.91 634.73 181.83 636.40 180.75C638.07 179.67 639.73 178.59 641.40 177.51C643.07 176.44 644.73 175.37 646.40 174.30C648.07 173.23 649.73 172.17 651.40 171.11C653.07 170.05 654.73 168.99 656.40 167.94C658.07 166.89 659.73 165.84 661.40 164.80C663.07 163.76 664.73 162.72 666.40 161.69C668.07 160.65 669.73 159.63 671.40 158.60C673.07 157.57 674.73 156.54 676.40 155.52C676.80 155.27 677.20 155.03 677.60 154.78" stroke="#0000ff" stroke-width="2.8"/>
<path d="M116.40 66.50C118.07 66.93 119.73 67.29 121.40 67.79C123.07 68.29 124.73 68.79 126.40 69.50C128.07 70.20 129.73 71.04 131.40 72.02C133.07 73.00 134.73 74.17 136.40 75.40C138.07 76.63 139.73 78.00 141.40 79.41C143.07 80.83 144.73 82.32 146.40 83.88C148.07 85.44 149.73 87.07 151.40 88.78C153.07 90.50 154.73 92.28 156.40 94.15C158.07 96.02 159.73 97.96 161.40 100.01C163.07 102.05 164.73 104.20 166.40 106.42C168.07 108.63 169.73 111.01 171.40 113.29C173.07 115.57 174.73 117.88 176.40 120.10C178.07 122.33 179.73 124.46 181.40 126.66C183.07 128.86 184.73 131.02 186.40 133.31C188.07 135.60 189.73 137.96 191.40 140.41C193.07 142.86 194.73 145.45 196.40 148.01C198.07 150.57 199.73 153.18 201.40 155.78C203.07 158.37 204.73 160.99 206.40 163.59C208.07 166.19 209.73 168.81 211.40 171.37C213.07 173.93 214.73 176.47 216.40 178.96C218.07 181.45 219.73 183.88 221.40 186.30C223.07 188.72 224.73 191.11 226.40 193.49C228.07 195.86 229.73 198.25 231.40 200.54C233.07 202.83 234.73 205.12 236.40 207.21C238.07 209.30 239.73 211.23 241.40 213.10C243.07 214.96 244.73 216.66 246.40 218.38C248.07 220.10 249.73 221.72 251.40 223.42C253.07 225.13 254.73 226.88 256.40 228.62C258.07 230.35 259.73 232.13 261.40 233.84C263.07 235.55 264.73 237.30 266.40 238.88C268.07 240.46 269.73 241.95 271.40 243.34C273.07 244.72 274.73 245.99 276.40 247.20C278.07 248.41 279.73 249.53 281.40 250.60C283.07 251.66 284.73 252.66 286.40 253.58C288.07 254.51 289.73 255.36 291.40 256.14C293.07 256.92 294.73 257.63 296.40 258.26C298.07 258.90 299.73 259.46 301.40 259.95C303.07 260.44 304.73 260.85 306.40 261.20C308.07 261.54 309.73 261.81 311.40 262.01C313.07 262.22 314.73 262.35 316.40 262.41C318.07 262.48 319.73 262.48 321.40 262.42C323.07 262.36 324.73 262.24 326.40 262.06C328.07 261.88 329.73 261.63 331.40 261.34C333.07 261.05 334.73 260.70 336.40 260.31C338.07 259.92 339.73 259.47 341.40 258.98C343.07 258.48 344.73 257.94 346.40 257.36C348.07 256.77 349.73 256.14 351.40 255.46C353.07 254.79 354.73 254.07 356.40 253.31C358.07 252.55 359.73 251.75 361.40 250.91C363.07 250.08 364.73 249.20 366.40 248.30C368.07 247.39 369.73 246.45 371.40 245.48C373.07 244.50 374.73 243.50 376.40 242.46C378.07 241.42 379.73 240.35 381.40 239.26C383.07 238.16 384.73 237.03 386.40 235.87C388.07 234.72 389.73 233.53 391.40 232.32C393.07 231.11 394.73 229.87 396.40 228.61C398.07 227.35 399.73 226.06 401.40 224.77C403.07 223.47 404.73 222.15 406.40 220.82C408.07 219.49 409.73 218.15 411.40 216.80C413.07 215.45 414.73 214.10 416.40 212.74C418.07 211.38 419.73 210.02 421.40 208.66C423.07 207.31 424.73 205.95 426.40 204.59C428.07 203.24 429.73 201.88 431.40 200.53C433.07 199.19 434.73 197.84 436.40 196.50C438.07 195.16 439.73 193.82 441.40 192.48C443.07 191.15 444.73 189.82 446.40 188.49C448.07 187.16 449.73 185.83 451.40 184.50C453.07 183.18 454.73 181.86 456.40 180.53C458.07 179.21 459.73 177.89 461.40 176.58C463.07 175.26 464.73 173.95 466.40 172.64C468.07 171.34 469.73 170.03 471.40 168.74C473.07 167.45 474.73 166.16 476.40 164.88C478.07 163.60 479.73 162.34 481.40 161.08C483.07 159.82 484.73 158.58 486.40 157.35C488.07 156.12 489.73 154.90 491.40 153.69C493.07 152.49 494.73 151.30 496.40 150.13C498.07 148.96 499.73 147.81 501.40 146.67C503.07 145.54 504.73 144.42 506.40 143.32C508.07 142.22 509.73 141.14 511.40 140.08C513.07 139.02 514.73 137.98 516.40 136.96C518.07 135.94 519.73 134.95 521.40 133.96C523.07 132.98 524.73 132.02 526.40 131.08C528.07 130.14 529.73 129.21 531.40 128.30C533.07 127.40 534.73 126.51 536.40 125.64C538.07 124.77 539.73 123.91 541.40 123.07C543.07 122.24 544.73 121.42 546.40 120.62C548.07 119.81 549.73 119.03 551.40 118.26C553.07 117.49 554.73 116.74 556.40 116.00C558.07 115.26 559.73 114.54 561.40 113.84C563.07 113.13 564.73 112.44 566.40 111.76C568.07 111.08 569.73 110.42 571.40 109.76C573.07 109.11 574.73 108.47 576.40 107.84C578.07 107.21 579.73 106.60 581.40 105.99C583.07 105.38 584.73 104.79 586.40 104.20C588.07 103.62 589.73 103.05 591.40 102.48C593.07 101.92 594.73 101.36 596.40 100.82C598.07 100.27 599.73 99.74 601.40 99.21C603.07 98.68 604.73 98.17 606.40 97.66C608.07 97.15 609.73 96.65 611.40 96.16C613.07 95.68 614.73 95.20 616.40 94.73C618.07 94.26 619.73 93.81 621.40 93.36C623.07 92.91 624.73 92.48 626.40 92.06C628.07 91.64 629.73 91.23 631.40 90.83C633.07 90.43 634.73 90.04 636.40 89.67C638.07 89.30 639.73 88.94 641.40 88.59C643.07 88.24 644.73 87.90 646.40 87.57C648.07 87.24 649.73 86.93 651.40 86.62C653.07 86.31 654.73 86.01 656.40 85.72C658.07 85.42 659.73 85.14 661.40 84.86C663.07 84.58 664.73 84.30 666.40 84.03C668.07 83.75 669.73 83.48 671.40 83.22C673.07 82.95 674.73 82.68 676.40 82.41C676.80 82.35 677.20 82.28 677.60 82.22" stroke="#670748" stroke-width="2.8" stroke-dasharray="2.55 7.65 17.85 7.65"/>
<path d="M116.40 66.50C118.07 67.02 119.73 67.46 121.40 68.06C123.07 68.66 124.73 69.26 126.40 70.09C128.07 70.92 129.73 71.89 131.40 73.04C133.07 74.18 134.73 75.53 136.40 76.96C138.07 78.39 139.73 79.96 141.40 81.59C143.07 83.22 144.73 84.93 146.40 86.73C148.07 88.53 149.73 90.41 151.40 92.41C153.07 94.41 154.73 96.50 156.40 98.72C158.07 100.95 159.73 103.28 161.40 105.75C163.07 108.23 164.73 110.89 166.40 113.57C168.07 116.26 169.73 119.10 171.40 121.87C173.07 124.64 174.73 127.39 176.40 130.21C178.07 133.03 179.73 135.81 181.40 138.77C183.07 141.73 184.73 144.75 186.40 147.96C188.07 151.17 189.73 154.54 191.40 158.03C193.07 161.53 194.73 165.19 196.40 168.94C198.07 172.69 199.73 176.57 201.40 180.52C203.07 184.46 204.73 188.52 206.40 192.62C208.07 196.72 209.73 200.91 211.40 205.10C213.07 209.30 214.73 213.56 216.40 217.78C218.07 222.00 219.73 226.20 221.40 230.42C223.07 234.63 224.73 238.82 226.40 243.06C228.07 247.31 229.73 251.57 231.40 255.89C233.07 260.20 234.73 264.55 236.40 268.94C238.07 273.33 239.73 277.75 241.40 282.20C243.07 286.65 244.73 291.14 246.40 295.63C248.07 300.12 249.73 304.64 251.40 309.15C253.07 313.66 254.73 318.18 256.40 322.68C258.07 327.17 259.73 331.67 261.40 336.11C263.07 340.55 264.73 344.97 266.40 349.32C268.07 353.68 269.73 357.98 271.40 362.23C273.07 366.48 274.73 370.67 276.40 374.82C278.07 378.97 279.73 383.05 281.40 387.14C283.07 391.22 284.73 395.28 286.40 399.33C288.07 403.38 289.73 407.43 291.40 411.42C293.07 415.41 294.73 419.38 296.40 423.25C298.07 427.12 299.73 430.93 301.40 434.65C303.07 438.36 304.73 441.98 306.40 445.54C308.07 449.10 309.73 452.59 311.40 456.00C313.07 459.40 314.73 462.73 316.40 465.98C318.07 469.22 319.73 472.38 321.40 475.44C323.07 478.51 324.73 481.49 326.40 484.37C328.07 487.25 329.73 490.04 331.40 492.73C333.07 495.42 334.73 498.02 336.40 500.52C338.07 503.02 339.73 505.42 341.40 507.74C343.07 510.05 344.73 512.27 346.40 514.40C348.07 516.54 349.73 518.58 351.40 520.54C353.07 522.50 354.73 524.38 356.40 526.17C358.07 527.97 359.73 529.68 361.40 531.31C363.07 532.95 364.73 534.50 366.40 535.97C368.07 537.44 369.73 538.83 371.40 540.14C373.07 541.45 374.73 542.68 376.40 543.82C378.07 544.97 379.73 546.03 381.40 547.01C383.07 547.99 384.73 548.89 386.40 549.70C388.07 550.51 389.73 551.24 391.40 551.88C393.07 552.51 394.73 553.07 396.40 553.53C398.07 554.00 399.73 554.37 401.40 554.67C403.07 554.96 404.73 555.16 406.40 555.27C408.07 555.39 409.73 555.42 411.40 555.36C413.07 555.30 414.73 555.16 416.40 554.93C418.07 554.70 419.73 554.39 421.40 553.99C423.07 553.60 424.73 553.12 426.40 552.57C428.07 552.01 429.73 551.38 431.40 550.68C433.07 549.97 434.73 549.19 436.40 548.34C438.07 547.49 439.73 546.57 441.40 545.59C443.07 544.61 444.73 543.55 446.40 542.44C448.07 541.33 449.73 540.15 451.40 538.92C453.07 537.68 454.73 536.39 456.40 535.04C458.07 533.69 459.73 532.28 461.40 530.82C463.07 529.37 464.73 527.85 466.40 526.29C468.07 524.73 469.73 523.12 471.40 521.47C473.07 519.81 474.73 518.10 476.40 516.36C478.07 514.61 479.73 512.82 481.40 510.98C483.07 509.15 484.73 507.27 486.40 505.36C488.07 503.44 489.73 501.49 491.40 499.50C493.07 497.52 494.73 495.49 496.40 493.44C498.07 491.39 499.73 489.30 501.40 487.20C503.07 485.09 504.73 482.95 506.40 480.80C508.07 478.64 509.73 476.46 511.40 474.26C513.07 472.06 514.73 469.83 516.40 467.59C518.07 465.35 519.73 463.08 521.40 460.79C523.07 458.51 524.73 456.20 526.40 453.87C528.07 451.54 529.73 449.19 531.40 446.81C533.07 444.43 534.73 442.04 536.40 439.61C538.07 437.19 539.73 434.75 541.40 432.28C543.07 429.82 544.73 427.33 546.40 424.82C548.07 422.31 549.73 419.78 551.40 417.23C553.07 414.68 554.73 412.11 556.40 409.52C558.07 406.94 559.73 404.33 561.40 401.72C563.07 399.11 564.73 396.47 566.40 393.84C568.07 391.20 569.73 388.55 571.40 385.90C573.07 383.25 574.73 380.58 576.40 377.92C578.07 375.27 579.73 372.60 581.40 369.94C583.07 367.28 584.73 364.62 586.40 361.97C588.07 359.32 589.73 356.67 591.40 354.03C593.07 351.39 594.73 348.76 596.40 346.14C598.07 343.53 599.73 340.92 601.40 338.32C603.07 335.72 604.73 333.14 606.40 330.57C608.07 327.99 609.73 325.43 611.40 322.88C613.07 320.34 614.73 317.80 616.40 315.27C618.07 312.75 619.73 310.23 621.40 307.72C623.07 305.22 624.73 302.72 626.40 300.24C628.07 297.75 629.73 295.27 631.40 292.81C633.07 290.35 634.73 287.89 636.40 285.45C638.07 283.02 639.73 280.59 641.40 278.19C643.07 275.78 644.73 273.40 646.40 271.03C648.07 268.66 649.73 266.31 651.40 263.97C653.07 261.64 654.73 259.33 656.40 257.03C658.07 254.73 659.73 252.45 661.40 250.18C663.07 247.91 664.73 245.66 666.40 243.42C668.07 241.17 669.73 238.94 671.40 236.71C673.07 234.48 674.73 232.26 676.40 230.03C676.80 229.50 677.20 228.96 677.60 228.43" stroke="#670748" stroke-width="2.8" stroke-dasharray="2.55 7.65 17.85 7.65"/>
<path d="M116.40 66.50C118.07 66.90 119.73 67.24 121.40 67.71C123.07 68.19 124.73 68.66 126.40 69.33C128.07 70.00 129.73 70.80 131.40 71.74C133.07 72.68 134.73 73.79 136.40 74.97C138.07 76.15 139.73 77.46 141.40 78.81C143.07 80.16 144.73 81.59 146.40 83.07C148.07 84.56 149.73 86.11 151.40 87.73C153.07 89.35 154.73 91.03 156.40 92.78C158.07 94.53 159.73 96.34 161.40 98.23C163.07 100.11 164.73 102.07 166.40 104.07C168.07 106.07 169.73 108.17 171.40 110.23C173.07 112.28 174.73 114.38 176.40 116.41C178.07 118.44 179.73 120.42 181.40 122.40C183.07 124.38 184.73 126.31 186.40 128.27C188.07 130.23 189.73 132.19 191.40 134.17C193.07 136.15 194.73 138.17 196.40 140.13C198.07 142.08 199.73 144.03 201.40 145.90C203.07 147.77 204.73 149.58 206.40 151.33C208.07 153.07 209.73 154.76 211.40 156.38C213.07 158.01 214.73 159.53 216.40 161.08C218.07 162.62 219.73 164.13 221.40 165.65C223.07 167.18 224.73 168.75 226.40 170.22C228.07 171.69 229.73 173.12 231.40 174.47C233.07 175.81 234.73 177.08 236.40 178.29C238.07 179.49 239.73 180.62 241.40 181.69C243.07 182.76 244.73 183.77 246.40 184.72C248.07 185.67 249.73 186.57 251.40 187.40C253.07 188.23 254.73 189.00 256.40 189.72C258.07 190.44 259.73 191.10 261.40 191.72C263.07 192.35 264.73 192.92 266.40 193.46C268.07 193.99 269.73 194.48 271.40 194.93C273.07 195.38 274.73 195.78 276.40 196.16C278.07 196.55 279.73 196.92 281.40 197.24C283.07 197.56 284.73 197.87 286.40 198.09C288.07 198.30 289.73 198.46 291.40 198.53C293.07 198.61 294.73 198.60 296.40 198.55C298.07 198.50 299.73 198.38 301.40 198.24C303.07 198.10 304.73 197.92 306.40 197.70C308.07 197.48 309.73 197.22 311.40 196.92C313.07 196.62 314.73 196.29 316.40 195.92C318.07 195.55 319.73 195.14 321.40 194.69C323.07 194.25 324.73 193.77 326.40 193.27C328.07 192.76 329.73 192.22 331.40 191.66C333.07 191.10 334.73 190.51 336.40 189.89C338.07 189.27 339.73 188.63 341.40 187.97C343.07 187.30 344.73 186.61 346.40 185.90C348.07 185.19 349.73 184.46 351.40 183.71C353.07 182.97 354.73 182.20 356.40 181.42C358.07 180.64 359.73 179.84 361.40 179.03C363.07 178.23 364.73 177.41 366.40 176.58C368.07 175.76 369.73 174.92 371.40 174.08C373.07 173.24 374.73 172.39 376.40 171.55C378.07 170.70 379.73 169.84 381.40 168.99C383.07 168.14 384.73 167.28 386.40 166.42C388.07 165.57 389.73 164.71 391.40 163.86C393.07 163.00 394.73 162.15 396.40 161.30C398.07 160.46 399.73 159.61 401.40 158.77C403.07 157.93 404.73 157.10 406.40 156.27C408.07 155.44 409.73 154.62 411.40 153.81C413.07 152.99 414.73 152.18 416.40 151.38C418.07 150.58 419.73 149.78 421.40 148.98C423.07 148.19 424.73 147.40 426.40 146.61C428.07 145.83 429.73 145.05 431.40 144.27C433.07 143.49 434.73 142.72 436.40 141.95C438.07 141.18 439.73 140.41 441.40 139.65C443.07 138.89 444.73 138.14 446.40 137.39C448.07 136.64 449.73 135.90 451.40 135.16C453.07 134.42 454.73 133.69 456.40 132.96C458.07 132.23 459.73 131.51 461.40 130.80C463.07 130.08 464.73 129.37 466.40 128.67C468.07 127.96 469.73 127.26 471.40 126.56C473.07 125.86 474.73 125.16 476.40 124.47C478.07 123.78 479.73 123.09 481.40 122.40C483.07 121.72 484.73 121.03 486.40 120.35C488.07 119.67 489.73 119.00 491.40 118.33C493.07 117.66 494.73 117.00 496.40 116.34C498.07 115.69 499.73 115.04 501.40 114.40C503.07 113.77 504.73 113.14 506.40 112.52C508.07 111.90 509.73 111.30 511.40 110.70C513.07 110.10 514.73 109.52 516.40 108.94C518.07 108.36 519.73 107.80 521.40 107.24C523.07 106.69 524.73 106.14 526.40 105.61C528.07 105.07 529.73 104.55 531.40 104.03C533.07 103.52 534.73 103.02 536.40 102.52C538.07 102.03 539.73 101.54 541.40 101.06C543.07 100.59 544.73 100.12 546.40 99.66C548.07 99.21 549.73 98.76 551.40 98.32C553.07 97.88 554.73 97.45 556.40 97.02C558.07 96.60 559.73 96.19 561.40 95.78C563.07 95.37 564.73 94.98 566.40 94.59C568.07 94.20 569.73 93.82 571.40 93.44C573.07 93.07 574.73 92.71 576.40 92.35C578.07 91.99 579.73 91.64 581.40 91.29C583.07 90.94 584.73 90.60 586.40 90.27C588.07 89.93 589.73 89.60 591.40 89.28C593.07 88.95 594.73 88.63 596.40 88.31C598.07 87.99 599.73 87.67 601.40 87.36C603.07 87.05 604.73 86.74 606.40 86.43C608.07 86.13 609.73 85.82 611.40 85.52C613.07 85.22 614.73 84.93 616.40 84.64C618.07 84.35 619.73 84.07 621.40 83.79C623.07 83.51 624.73 83.24 626.40 82.97C628.07 82.71 629.73 82.45 631.40 82.21C633.07 81.96 634.73 81.72 636.40 81.49C638.07 81.26 639.73 81.04 641.40 80.83C643.07 80.62 644.73 80.42 646.40 80.22C648.07 80.03 649.73 79.85 651.40 79.67C653.07 79.49 654.73 79.32 656.40 79.15C658.07 78.99 659.73 78.83 661.40 78.68C663.07 78.52 664.73 78.37 666.40 78.22C668.07 78.08 669.73 77.93 671.40 77.79C673.07 77.64 674.73 77.50 676.40 77.36C676.80 77.32 677.20 77.29 677.60 77.26" stroke="#008b00" stroke-width="2.8" stroke-dasharray="2.55 7.65 12.75 7.65 2.55 7.65"/>
<path d="M116.40 66.50C118.07 66.98 119.73 67.38 121.40 67.94C123.07 68.49 124.73 69.06 126.40 69.84C128.07 70.63 129.73 71.57 131.40 72.66C133.07 73.76 134.73 75.07 136.40 76.44C138.07 77.80 139.73 79.32 141.40 80.87C143.07 82.42 144.73 84.04 146.40 85.74C148.07 87.45 149.73 89.22 151.40 91.09C153.07 92.96 154.73 94.91 156.40 96.98C158.07 99.05 159.73 101.22 161.40 103.51C163.07 105.80 164.73 108.23 166.40 110.74C168.07 113.26 169.73 115.91 171.40 118.59C173.07 121.27 174.73 124.03 176.40 126.80C178.07 129.58 179.73 132.38 181.40 135.25C183.07 138.12 184.73 141.03 186.40 144.02C188.07 147.00 189.73 150.09 191.40 153.15C193.07 156.22 194.73 159.33 196.40 162.38C198.07 165.43 199.73 168.44 201.40 171.45C203.07 174.46 204.73 177.44 206.40 180.46C208.07 183.47 209.73 186.50 211.40 189.55C213.07 192.61 214.73 195.69 216.40 198.77C218.07 201.84 219.73 204.93 221.40 207.99C223.07 211.05 224.73 214.08 226.40 217.11C228.07 220.14 229.73 223.17 231.40 226.17C233.07 229.17 234.73 232.19 236.40 235.10C238.07 238.01 239.73 240.89 241.40 243.65C243.07 246.41 244.73 249.06 246.40 251.68C248.07 254.30 249.73 256.82 251.40 259.35C253.07 261.88 254.73 264.38 256.40 266.87C258.07 269.37 259.73 271.85 261.40 274.31C263.07 276.76 264.73 279.20 266.40 281.60C268.07 283.99 269.73 286.36 271.40 288.67C273.07 290.98 274.73 293.24 276.40 295.45C278.07 297.65 279.73 299.79 281.40 301.91C283.07 304.03 284.73 306.11 286.40 308.17C288.07 310.23 289.73 312.29 291.40 314.26C293.07 316.23 294.73 318.15 296.40 319.99C298.07 321.82 299.73 323.58 301.40 325.28C303.07 326.97 304.73 328.59 306.40 330.16C308.07 331.72 309.73 333.22 311.40 334.65C313.07 336.09 314.73 337.45 316.40 338.75C318.07 340.05 319.73 341.28 321.40 342.45C323.07 343.61 324.73 344.70 326.40 345.73C328.07 346.76 329.73 347.72 331.40 348.62C333.07 349.51 334.73 350.34 336.40 351.11C338.07 351.88 339.73 352.58 341.40 353.22C343.07 353.87 344.73 354.45 346.40 354.98C348.07 355.50 349.73 355.97 351.40 356.38C353.07 356.80 354.73 357.15 356.40 357.46C358.07 357.77 359.73 358.02 361.40 358.22C363.07 358.43 364.73 358.58 366.40 358.69C368.07 358.79 369.73 358.85 371.40 358.87C373.07 358.89 374.73 358.86 376.40 358.79C378.07 358.72 379.73 358.61 381.40 358.47C383.07 358.32 384.73 358.14 386.40 357.92C388.07 357.70 389.73 357.45 391.40 357.17C393.07 356.89 394.73 356.58 396.40 356.23C398.07 355.89 399.73 355.52 401.40 355.12C403.07 354.72 404.73 354.29 406.40 353.83C408.07 353.36 409.73 352.87 411.40 352.34C413.07 351.81 414.73 351.25 416.40 350.65C418.07 350.05 419.73 349.41 421.40 348.74C423.07 348.06 424.73 347.35 426.40 346.59C428.07 345.84 429.73 345.05 431.40 344.21C433.07 343.38 434.73 342.51 436.40 341.61C438.07 340.70 439.73 339.76 441.40 338.79C443.07 337.81 444.73 336.81 446.40 335.77C448.07 334.74 449.73 333.68 451.40 332.59C453.07 331.51 454.73 330.40 456.40 329.27C458.07 328.15 459.73 327.00 461.40 325.84C463.07 324.68 464.73 323.51 466.40 322.32C468.07 321.13 469.73 319.93 471.40 318.71C473.07 317.50 474.73 316.27 476.40 315.03C478.07 313.78 479.73 312.52 481.40 311.25C483.07 309.98 484.73 308.69 486.40 307.39C488.07 306.09 489.73 304.77 491.40 303.45C493.07 302.13 494.73 300.79 496.40 299.45C498.07 298.12 499.73 296.77 501.40 295.42C503.07 294.08 504.73 292.73 506.40 291.38C508.07 290.03 509.73 288.67 511.40 287.31C513.07 285.96 514.73 284.60 516.40 283.23C518.07 281.87 519.73 280.50 521.40 279.13C523.07 277.76 524.73 276.38 526.40 275.00C528.07 273.62 529.73 272.23 531.40 270.84C533.07 269.45 534.73 268.05 536.40 266.66C538.07 265.26 539.73 263.86 541.40 262.46C543.07 261.06 544.73 259.65 546.40 258.25C548.07 256.85 549.73 255.44 551.40 254.04C553.07 252.64 554.73 251.24 556.40 249.84C558.07 248.45 559.73 247.05 561.40 245.66C563.07 244.27 564.73 242.89 566.40 241.50C568.07 240.12 569.73 238.74 571.40 237.36C573.07 235.98 574.73 234.60 576.40 233.23C578.07 231.85 579.73 230.48 581.40 229.10C583.07 227.73 584.73 226.36 586.40 224.99C588.07 223.62 589.73 222.26 591.40 220.89C593.07 219.53 594.73 218.17 596.40 216.82C598.07 215.47 599.73 214.12 601.40 212.79C603.07 211.45 604.73 210.12 606.40 208.81C608.07 207.49 609.73 206.18 611.40 204.88C613.07 203.57 614.73 202.28 616.40 201.00C618.07 199.71 619.73 198.43 621.40 197.16C623.07 195.88 624.73 194.62 626.40 193.36C628.07 192.10 629.73 190.84 631.40 189.59C633.07 188.34 634.73 187.09 636.40 185.84C638.07 184.60 639.73 183.36 641.40 182.12C643.07 180.88 644.73 179.65 646.40 178.42C648.07 177.18 649.73 175.95 651.40 174.73C653.07 173.50 654.73 172.27 656.40 171.05C658.07 169.83 659.73 168.61 661.40 167.39C663.07 166.17 664.73 164.95 666.40 163.73C668.07 162.51 669.73 161.30 671.40 160.08C673.07 158.86 674.73 157.65 676.40 156.43C676.80 156.14 677.20 155.85 677.60 155.56" stroke="#008b00" stroke-width="2.8" stroke-dasharray="2.55 7.65 12.75 7.65 2.55 7.65"/>
</g>
<rect x="116.4" y="3.3" width="561.20" height="569.50" fill="none" stroke="#000" stroke-width="2.6"/>
<path d="M116.40 572.8v-18.7M116.40 3.3v18.7M226.74 572.8v-18.7M226.74 3.3v18.7M337.08 572.8v-18.7M337.08 3.3v18.7M447.42 572.8v-18.7M447.42 3.3v18.7M557.76 572.8v-18.7M557.76 3.3v18.7M668.10 572.8v-18.7M668.10 3.3v18.7M151.92 572.8v-10.2M151.92 3.3v10.2M180.94 572.8v-10.2M180.94 3.3v10.2M205.48 572.8v-10.2M205.48 3.3v10.2M245.49 572.8v-10.2M245.49 3.3v10.2M262.26 572.8v-10.2M262.26 3.3v10.2M291.28 572.8v-10.2M291.28 3.3v10.2M372.60 572.8v-10.2M372.60 3.3v10.2M401.62 572.8v-10.2M401.62 3.3v10.2M426.16 572.8v-10.2M426.16 3.3v10.2M466.17 572.8v-10.2M466.17 3.3v10.2M482.94 572.8v-10.2M482.94 3.3v10.2M511.96 572.8v-10.2M511.96 3.3v10.2M593.28 572.8v-10.2M593.28 3.3v10.2M622.30 572.8v-10.2M622.30 3.3v10.2M646.84 572.8v-10.2M646.84 3.3v10.2M116.4 572.80h18.7M677.6 572.80h-18.7M116.4 551.70h10.2M677.6 551.70h-10.2M116.4 530.61h10.2M677.6 530.61h-10.2M116.4 509.51h10.2M677.6 509.51h-10.2M116.4 488.42h18.7M677.6 488.42h-18.7M116.4 467.32h10.2M677.6 467.32h-10.2M116.4 446.22h10.2M677.6 446.22h-10.2M116.4 425.13h10.2M677.6 425.13h-10.2M116.4 404.03h18.7M677.6 404.03h-18.7M116.4 382.94h10.2M677.6 382.94h-10.2M116.4 361.84h10.2M677.6 361.84h-10.2M116.4 340.75h10.2M677.6 340.75h-10.2M116.4 319.65h18.7M677.6 319.65h-18.7M116.4 298.55h10.2M677.6 298.55h-10.2M116.4 277.46h10.2M677.6 277.46h-10.2M116.4 256.36h10.2M677.6 256.36h-10.2M116.4 235.27h18.7M677.6 235.27h-18.7M116.4 214.17h10.2M677.6 214.17h-10.2M116.4 193.07h10.2M677.6 193.07h-10.2M116.4 171.98h10.2M677.6 171.98h-10.2M116.4 150.88h18.7M677.6 150.88h-18.7M116.4 129.79h10.2M677.6 129.79h-10.2M116.4 108.69h10.2M677.6 108.69h-10.2M116.4 87.60h10.2M677.6 87.60h-10.2M116.4 66.50h18.7M677.6 66.50h-18.7M116.4 45.40h10.2M677.6 45.40h-10.2M116.4 24.31h10.2M677.6 24.31h-10.2" fill="none" stroke="#000" stroke-width="2.6"/>
<text transform="translate(109.5,77.5) scale(1,1.05)" font-size="32.5" text-anchor="end">1</text>
<text transform="translate(109.5,161.88) scale(1,1.05)" font-size="32.5" text-anchor="end">0.98</text>
<text transform="translate(109.5,246.27) scale(1,1.05)" font-size="32.5" text-anchor="end">0.96</text>
<text transform="translate(109.5,330.65) scale(1,1.05)" font-size="32.5" text-anchor="end">0.94</text>
<text transform="translate(109.5,415.03) scale(1,1.05)" font-size="32.5" text-anchor="end">0.92</text>
<text transform="translate(109.5,499.42) scale(1,1.05)" font-size="32.5" text-anchor="end">0.9</text>
<text transform="translate(109.5,583.8) scale(1,1.05)" font-size="32.5" text-anchor="end">0.88</text>
<text transform="translate(117.2,603.4) scale(1,1.05)" font-size="32.5" text-anchor="middle">0.25</text>
<text transform="translate(227.54,603.4) scale(1,1.05)" font-size="32.5" text-anchor="middle">0.5</text>
<text transform="translate(337.88,603.4) scale(1,1.05)" font-size="32.5" text-anchor="middle">1</text>
<text transform="translate(448.22,603.4) scale(1,1.05)" font-size="32.5" text-anchor="middle">2</text>
<text transform="translate(558.56,603.4) scale(1,1.05)" font-size="32.5" text-anchor="middle">4</text>
<text transform="translate(668.9,603.4) scale(1,1.05)" font-size="32.5" text-anchor="middle">8</text>
<text x="162.0" y="45.2" font-size="30" text-anchor="start" >T<tspan dy="12.6" font-size="21">0</tspan></text>
<text transform="translate(197.2,45.2) scale(1.1,1)" font-size="30">=</text>
<text x="223.5" y="45.2" font-size="30" text-anchor="start" >600</text>
<text x="278.6" y="45.2" font-size="30" text-anchor="start" >MeV,</text>
<text x="367.0" y="45.2" font-size="30" text-anchor="start" >τ<tspan dy="12.6" font-size="21">0</tspan></text>
<text transform="translate(396.8,45.2) scale(1.1,1)" font-size="30">=</text>
<text x="423.0" y="45.2" font-size="30" text-anchor="start" >0.25</text>
<text x="484.0" y="45.2" font-size="30" text-anchor="start" >fm/c,</text>
<text x="566.0" y="45.2" font-size="30" text-anchor="start" >ξ<tspan dy="12.6" font-size="21">0</tspan></text>
<text transform="translate(596.7,45.2) scale(1.1,1)" font-size="30">=</text>
<text x="623.5" y="45.2" font-size="30" text-anchor="start" >0</text>
<text transform="translate(258.30,149.1) scale(1.1,1)" font-size="28.2">η</text>
<text transform="translate(273.00,149.1) scale(1.5,1)" font-size="28.2">/</text>
<text transform="translate(284.20,149.1) scale(1.03,1)" font-size="28.2">s</text>
<text transform="translate(301.60,149.1) scale(1.15,1)" font-size="28.2">=</text>
<text transform="translate(326.10,149.1) scale(1.03,1)" font-size="28.2">1</text>
<text transform="translate(338.20,149.1) scale(1.4,1)" font-size="28.2">/</text>
<text transform="translate(348.10,149.1) scale(1.03,1)" font-size="28.2">4</text>
<text transform="translate(363.00,149.1) scale(1.08,1)" font-size="28.2">π</text>
<text transform="translate(331.90,291.4) scale(1.1,1)" font-size="28.2">η</text>
<text transform="translate(346.60,291.4) scale(1.5,1)" font-size="28.2">/</text>
<text transform="translate(357.80,291.4) scale(1.03,1)" font-size="28.2">s</text>
<text transform="translate(375.20,291.4) scale(1.15,1)" font-size="28.2">=</text>
<text transform="translate(399.70,291.4) scale(1.03,1)" font-size="28.2">3</text>
<text transform="translate(411.80,291.4) scale(1.4,1)" font-size="28.2">/</text>
<text transform="translate(421.70,291.4) scale(1.03,1)" font-size="28.2">4</text>
<text transform="translate(436.60,291.4) scale(1.08,1)" font-size="28.2">π</text>
<text transform="translate(517.40,504.2) scale(1.1,1)" font-size="28.2">η</text>
<text transform="translate(532.10,504.2) scale(1.5,1)" font-size="28.2">/</text>
<text transform="translate(543.30,504.2) scale(1.03,1)" font-size="28.2">s</text>
<text transform="translate(560.70,504.2) scale(1.15,1)" font-size="28.2">=</text>
<text transform="translate(585.20,504.2) scale(1.03,1)" font-size="28.2">1</text>
<text transform="translate(596.70,504.2) scale(1.03,1)" font-size="28.2">0</text>
<text transform="translate(609.90,504.2) scale(1.4,1)" font-size="28.2">/</text>
<text transform="translate(619.90,504.2) scale(1.03,1)" font-size="28.2">4</text>
<text transform="translate(634.80,504.2) scale(1.08,1)" font-size="28.2">π</text>
<text transform="translate(181.2,503.85) scale(1,0.911)" font-size="39.5">(</text>
<text transform="translate(194.6,504.5) scale(1.06,1)" font-size="39.5">a</text>
<text transform="translate(213.4,503.85) scale(1,0.911)" font-size="39.5">)</text>
<text transform="translate(339.6,636.5) scale(1.2,1.04)" font-size="36.5">τ</text>
<text x="364.3" y="636.5" font-size="36.5" text-anchor="start" >(fm/c</text>
<text x="444.6" y="636.5" font-size="36.5" text-anchor="start" >)</text>
<g transform="translate(28.8,314) rotate(-90)"><text x="0" y="0" font-size="39">s/s<tspan dy="15.6" font-size="27">0</tspan></text></g>
</svg>
</body></html>
